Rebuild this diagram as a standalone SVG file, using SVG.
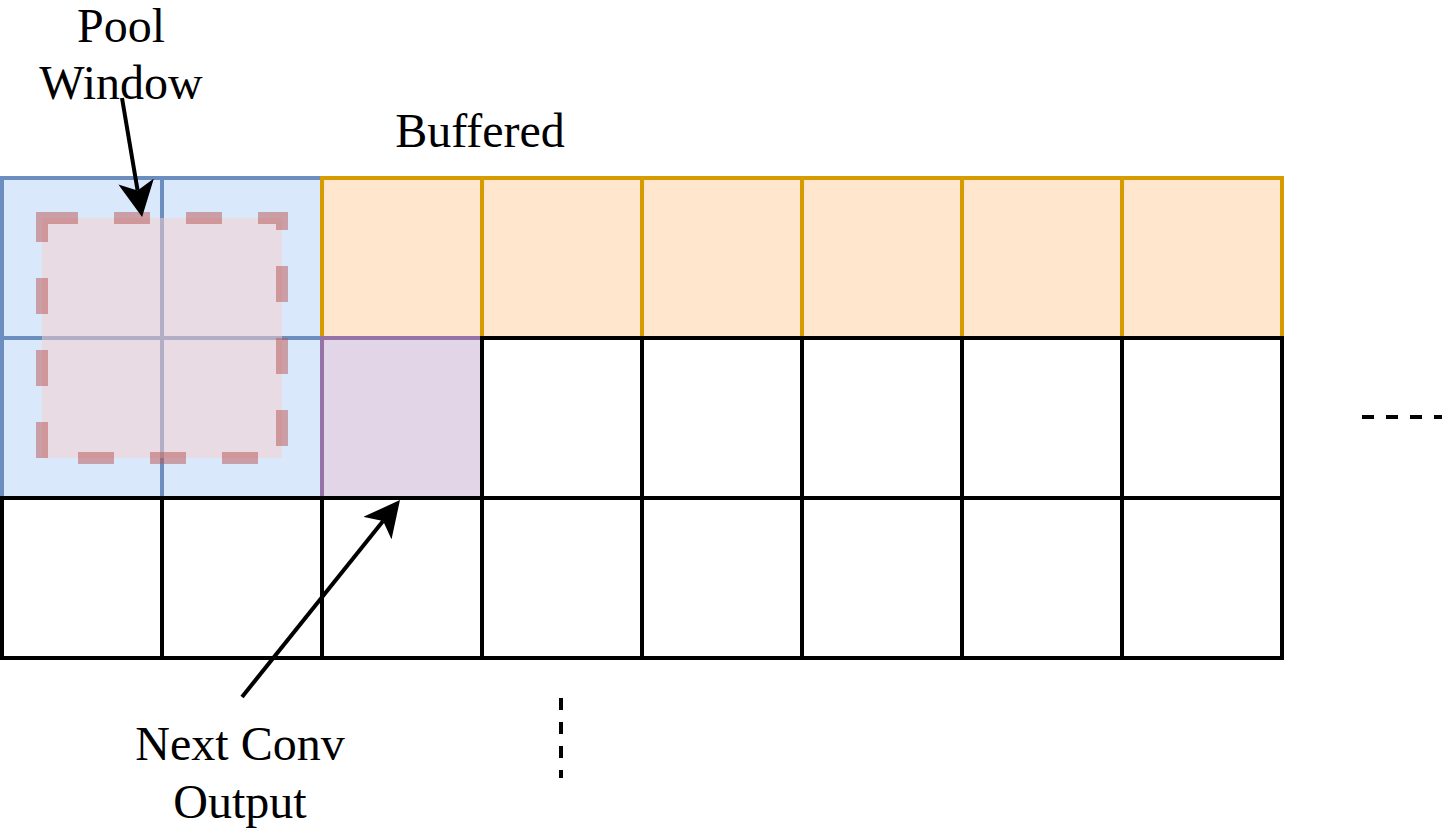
<svg xmlns="http://www.w3.org/2000/svg" width="1448" height="836" viewBox="0 0 1448 836">
<style>
.cell{stroke-width:4}
.blue{fill:#dae8fc;stroke:#6c8ebf}
.orange{fill:#ffe6cc;stroke:#d79b00}
.purple{fill:#e1d5e7;stroke:#9673a6}
.white{fill:#ffffff;stroke:#000000}
.pool{fill:#f8cecc;fill-opacity:0.5;stroke:#b85450;stroke-opacity:0.5;stroke-width:12;stroke-dasharray:36 36}
.lbl{font-family:"Liberation Serif","Times New Roman",serif;font-size:48px;fill:#000;text-anchor:middle}
.conn{stroke:#000;stroke-width:4;fill:none}
.dash{stroke:#000;stroke-width:4;fill:none;stroke-dasharray:12 12}
</style>
<defs>
<marker id="arrow" viewBox="0 0 36 36" refX="9" refY="18" markerWidth="36" markerHeight="36" markerUnits="userSpaceOnUse" orient="auto">
<path d="M36 18 L0 0 L9 18 L0 36 Z" fill="#000"/>
</marker>
</defs>
<g id="grid">
<g id="blue-cells">
<rect id="b00" class="cell blue" x="2" y="178" width="160" height="160"/>
<rect id="b01" class="cell blue" x="162" y="178" width="160" height="160"/>
<rect id="b10" class="cell blue" x="2" y="338" width="160" height="160"/>
<rect id="b11" class="cell blue" x="162" y="338" width="160" height="160"/>
</g>
<g id="buffered-cells">
<rect id="o2" class="cell orange" x="322" y="178" width="160" height="160"/>
<rect id="o3" class="cell orange" x="482" y="178" width="160" height="160"/>
<rect id="o4" class="cell orange" x="642" y="178" width="160" height="160"/>
<rect id="o5" class="cell orange" x="802" y="178" width="160" height="160"/>
<rect id="o6" class="cell orange" x="962" y="178" width="160" height="160"/>
<rect id="o7" class="cell orange" x="1122" y="178" width="160" height="160"/>
</g>
<g id="next-output-cell">
<rect id="p12" class="cell purple" x="322" y="338" width="160" height="160"/>
</g>
<g id="white-cells">
<rect class="cell white" x="482" y="338" width="160" height="160"/>
<rect class="cell white" x="642" y="338" width="160" height="160"/>
<rect class="cell white" x="802" y="338" width="160" height="160"/>
<rect class="cell white" x="962" y="338" width="160" height="160"/>
<rect class="cell white" x="1122" y="338" width="160" height="160"/>
<rect class="cell white" x="2" y="498" width="160" height="160"/>
<rect class="cell white" x="162" y="498" width="160" height="160"/>
<rect class="cell white" x="322" y="498" width="160" height="160"/>
<rect class="cell white" x="482" y="498" width="160" height="160"/>
<rect class="cell white" x="642" y="498" width="160" height="160"/>
<rect class="cell white" x="802" y="498" width="160" height="160"/>
<rect class="cell white" x="962" y="498" width="160" height="160"/>
<rect class="cell white" x="1122" y="498" width="160" height="160"/>
</g>
</g>
<g id="pool-window">
<rect class="pool" x="42" y="218" width="240" height="240"/>
</g>
<g id="connectors">
<line class="conn" x1="122" y1="98" x2="137.6" y2="190.4" marker-end="url(#arrow)"/>
<line class="conn" x1="242" y1="697" x2="383.1" y2="521.1" marker-end="url(#arrow)"/>
<line class="dash" x1="1362" y1="417" x2="1442" y2="417"/>
<line class="dash" x1="561" y1="698" x2="561" y2="778"/>
</g>
<g id="labels">
<text class="lbl" x="121" y="42">Pool</text>
<text class="lbl" x="121" y="99">Window</text>
<text class="lbl" x="480" y="147">Buffered</text>
<text class="lbl" x="240" y="760">Next Conv</text>
<text class="lbl" x="240" y="818">Output</text>
</g>
</svg>
